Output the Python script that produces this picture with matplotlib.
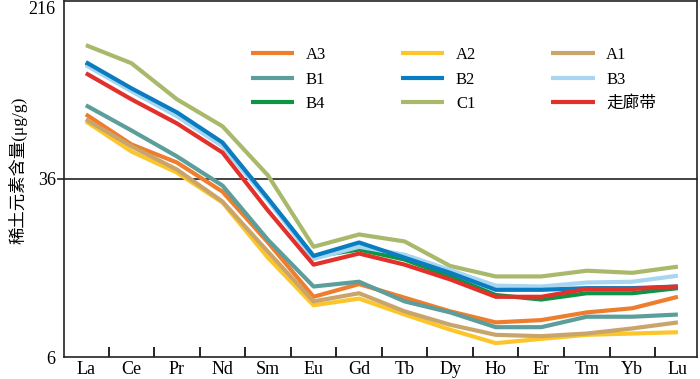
import matplotlib.pyplot as plt
from matplotlib.ticker import NullLocator, FixedLocator, FixedFormatter

# Categories (rare earth elements)
elements = ['La', 'Ce', 'Pr', 'Nd', 'Sm', 'Eu', 'Gd', 'Tb', 'Dy', 'Ho', 'Er', 'Tm', 'Yb', 'Lu']

# Series values (ug/g)
a3 = [69.0, 51.0, 42.5, 31.7, 19.0, 11.0, 12.5, 10.9, 9.5, 8.5, 8.7, 9.4, 9.8, 11.0]
a2 = [64.3, 47.5, 38.4, 28.4, 16.3, 10.1, 10.8, 9.2, 7.9, 6.9, 7.2, 7.5, 7.6, 7.7]
a1 = [65.6, 50.0, 39.6, 28.7, 17.3, 10.5, 11.4, 9.5, 8.3, 7.5, 7.4, 7.6, 8.0, 8.5]
b1 = [75.6, 58.7, 45.2, 33.7, 19.5, 12.2, 12.8, 10.5, 9.4, 8.1, 8.1, 9.0, 9.0, 9.2]
b2 = [116.7, 89.7, 70.4, 52.0, 29.6, 16.6, 19.0, 16.3, 14.0, 11.8, 11.8, 12.0, 12.0, 12.2]
b3 = [113.2, 87.1, 67.7, 50.0, 29.0, 16.1, 18.2, 16.8, 14.4, 12.3, 12.2, 12.7, 12.8, 13.6]
b4 = [115.5, 88.8, 69.0, 51.5, 29.3, 16.5, 17.7, 16.0, 13.5, 11.2, 10.7, 11.4, 11.4, 12.0]
c1 = [138.5, 115.5, 80.3, 61.2, 37.3, 18.2, 20.6, 19.2, 15.0, 13.5, 13.5, 14.3, 14.0, 14.9]
corridor = [104.4, 80.3, 63.0, 47.0, 26.2, 15.2, 17.0, 15.2, 13.1, 11.0, 11.0, 11.9, 11.9, 12.2]

names = ['A3', 'A2', 'A1', 'B1', 'B2', 'B3', 'B4', 'C1', '走廊带']
series = [a3, a2, a1, b1, b2, b3, b4, c1, corridor]
colors = ['#ef7d2e', '#fcc62b', '#c9a56b', '#5c9e9b', '#0a7cc1',
          '#a6d6f0', '#0d9445', '#a9b96b', '#e2302b']
# B2 sits over B3/B4 in the original
zorders = [2, 2, 2, 2, 2.6, 2.4, 2.2, 2, 2.8]

y_ticks = [6, 36, 216]

plt.rcParams['font.family'] = ['Liberation Serif', 'Noto Sans CJK SC']

fig = plt.figure(figsize=(7, 3.79), dpi=100)
ax = fig.add_axes([64 / 700, 22 / 379, 633 / 700, 356 / 379])

x = list(range(len(elements)))
lines = []
for vals, name, col, z in zip(series, names, colors, zorders):
    ln, = ax.plot(x, vals, color=col, lw=3, label=name,
                  solid_capstyle='butt', zorder=z)
    lines.append(ln)

# reference line at 36, poking out a little left of the axis
ax.plot([-0.01, 1], [36, 36], color='#222222', lw=1.2, zorder=0.5,
        transform=ax.get_yaxis_transform(), clip_on=False)

ax.set_yscale('log')
ax.set_ylim(6, 216)
ax.set_xlim(-0.48, 13.42)
ax.yaxis.set_major_locator(FixedLocator(y_ticks))
ax.yaxis.set_major_formatter(FixedFormatter([str(t) for t in y_ticks]))
ax.yaxis.set_minor_locator(NullLocator())
ax.tick_params(axis='y', length=0, labelsize=13, pad=6)
ax.get_yticklabels()[-1].set_va('top')

# element labels at points, ticks between them
ax.set_xticks([i + 0.5 for i in range(len(elements) - 1)])
ax.set_xticklabels([])
ax.tick_params(axis='x', direction='in', length=7, width=1.2)
for i, el in enumerate(elements):
    ax.text(i, -0.012, el, transform=ax.get_xaxis_transform(),
            ha='center', va='top', fontsize=13)

for sp in ax.spines.values():
    sp.set_linewidth(1.2)
    sp.set_color('#222222')

# y label placed by hand so it stays inside the figure
fig.text(18 / 700, 1 - 170 / 379, '稀土元素含量(μg/g)', rotation=90,
         ha='center', va='center', fontsize=12.5)

# legend filled row by row: A3 A2 A1 / B1 B2 B3 / B4 C1 走廊带
order = [0, 3, 6, 1, 4, 7, 2, 5, 8]
ax.legend([lines[i] for i in order], [names[i] for i in order],
          ncol=3, loc='upper left', bbox_to_anchor=(0.295, 0.87),
          borderaxespad=0, borderpad=0,
          frameon=False, fontsize=12, handlelength=2.6,
          columnspacing=4.5, labelspacing=0.5, handletextpad=0.7)

fig.savefig('out.png', dpi=100)
